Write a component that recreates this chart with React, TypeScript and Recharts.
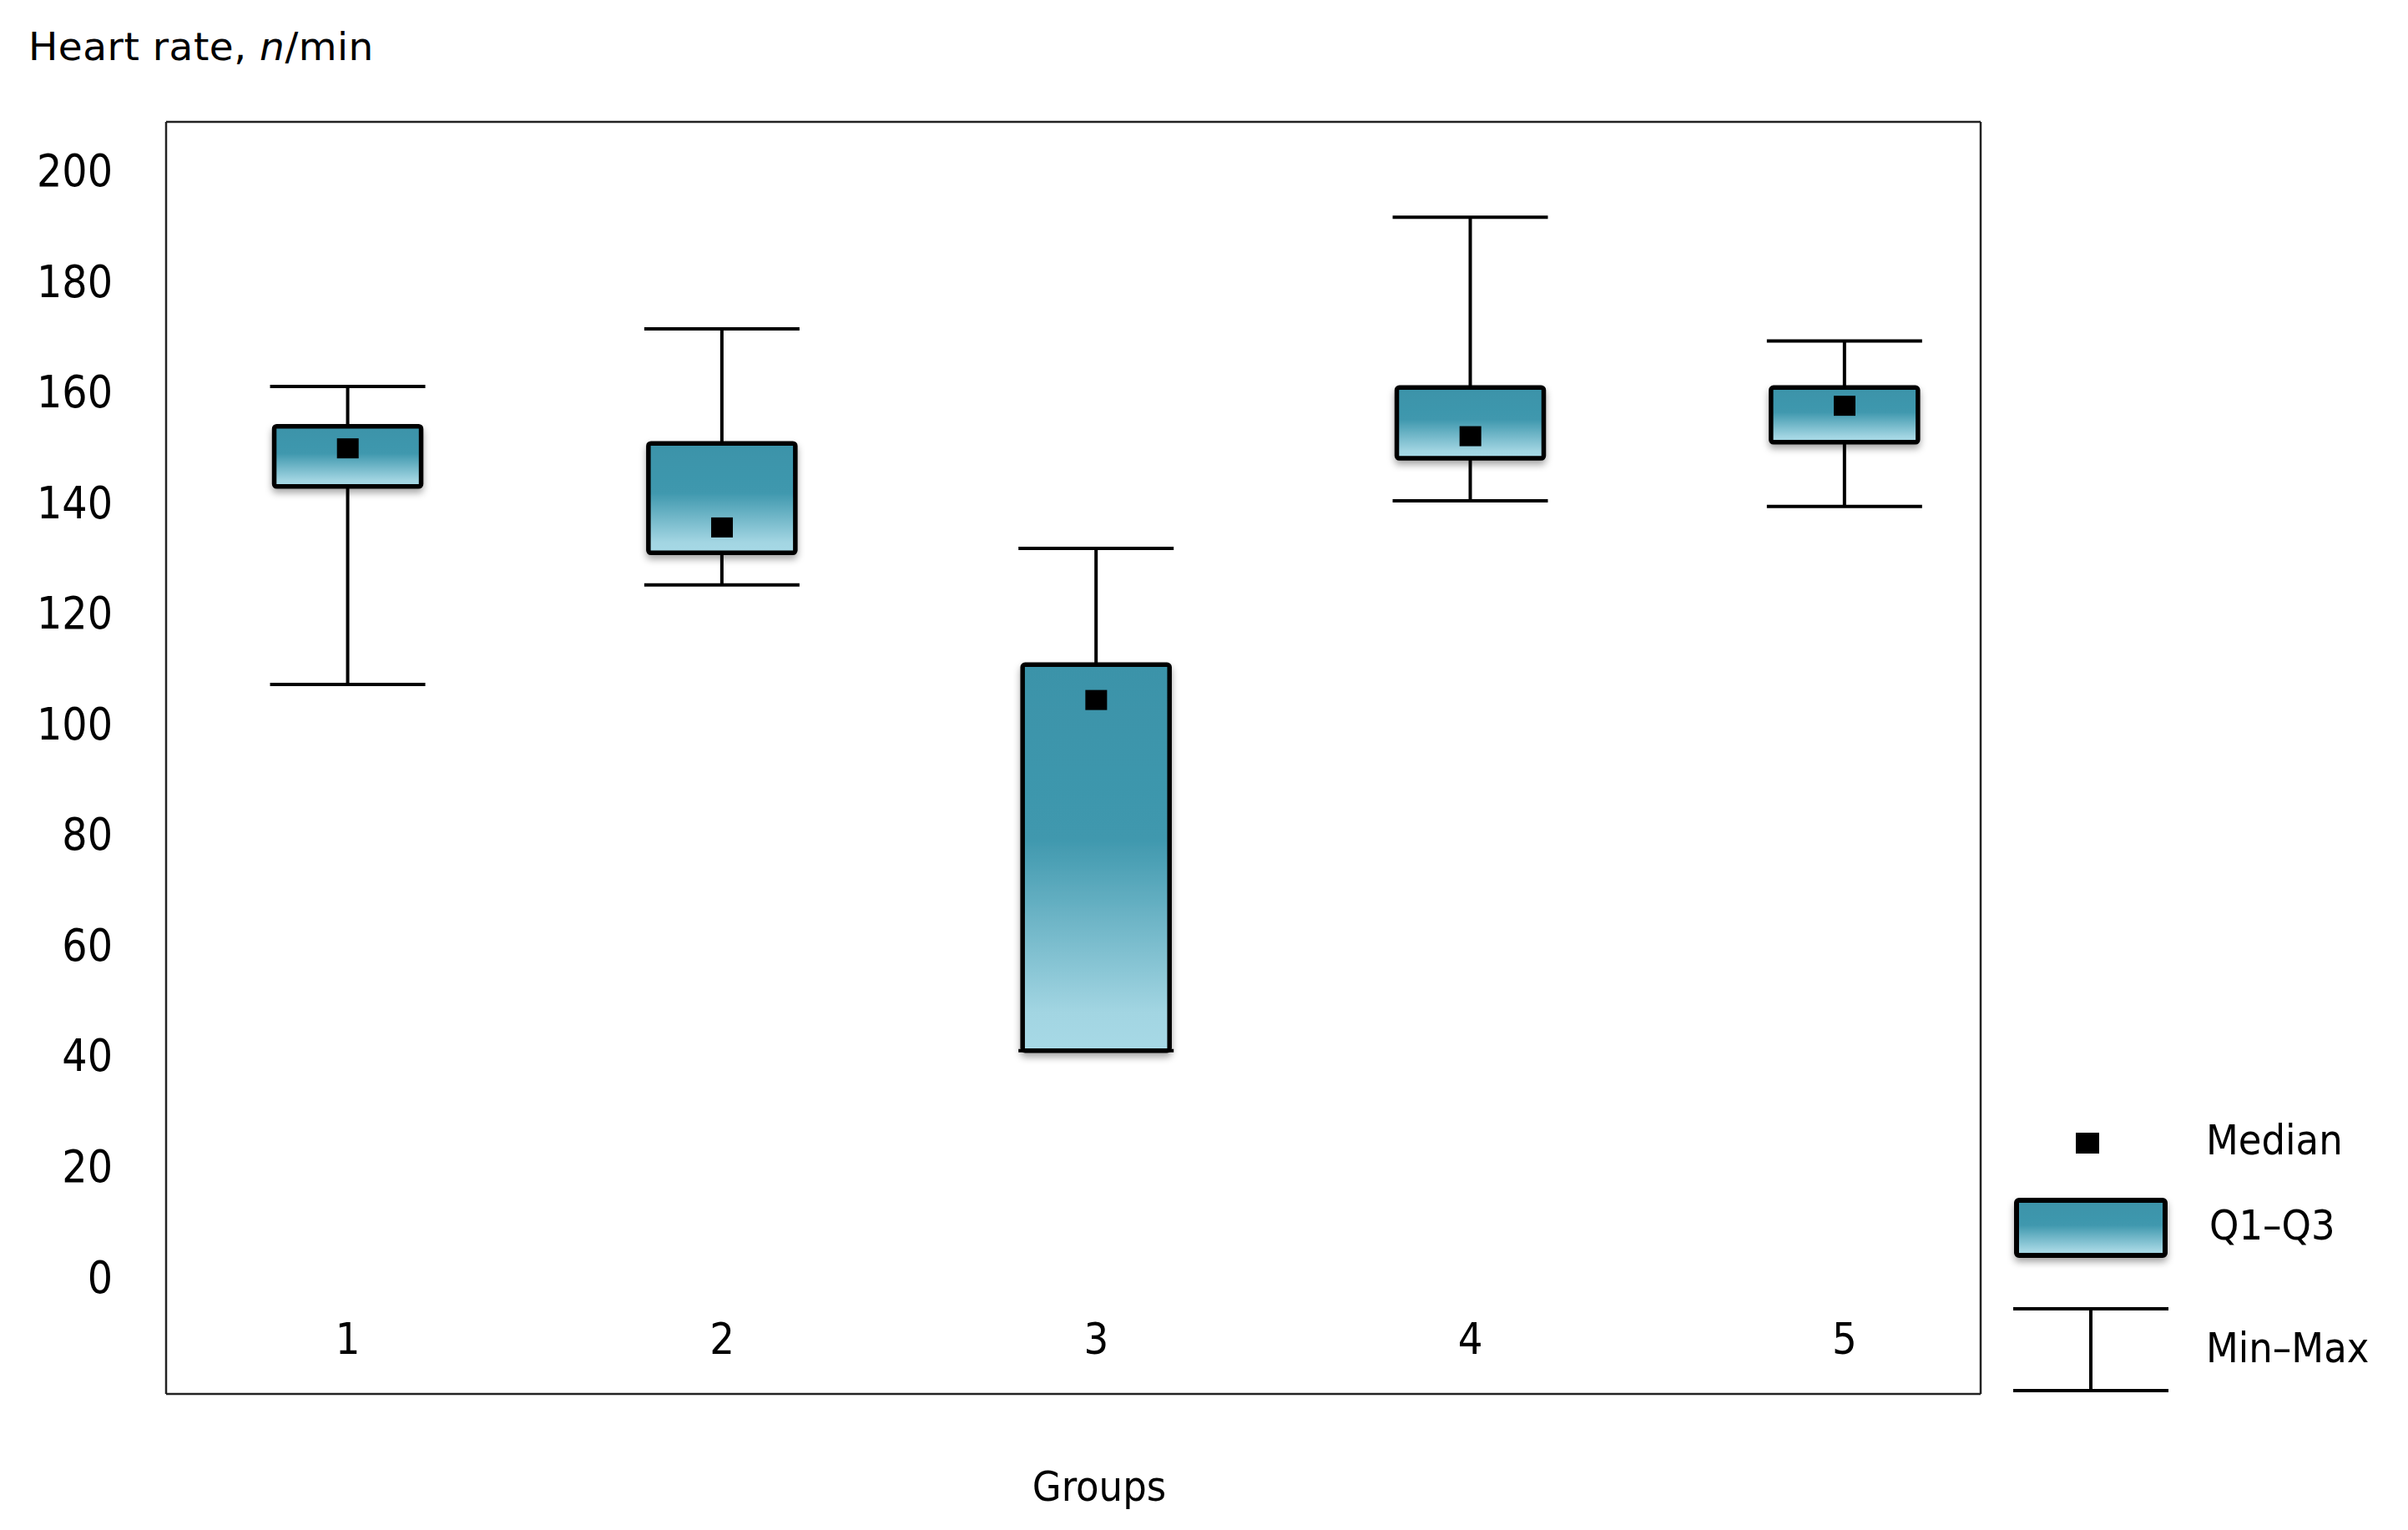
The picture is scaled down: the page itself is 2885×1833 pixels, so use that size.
import React from 'react';
import { ComposedChart, Bar, Scatter, XAxis, YAxis, Legend } from 'recharts';

const groups = [1, 2, 3, 4, 5];
const mins = [107.1, 125.1, 40.9, 140.3, 139.3];
const q1s = [142.9, 130.9, 40.9, 148.0, 150.9];
const medians = [149.8, 135.5, 104.3, 152.0, 157.5];
const q3s = [153.8, 150.7, 110.7, 160.8, 160.8];
const maxs = [161.0, 171.4, 131.7, 191.6, 169.2];
const yTicks = [0, 20, 40, 60, 80, 100, 120, 140, 160, 180, 200];

const data = groups.map((g, i) => ({
  g,
  whisker: [mins[i], maxs[i]],
  box: [q1s[i], q3s[i]],
  median: medians[i],
}));

const FONT = "'DejaVu Sans Condensed', 'DejaVu Sans', sans-serif";
const FONT_W = "'DejaVu Sans', sans-serif";
const TEAL = '#3c95ab';
const LIGHT = '#a7d9e6';

const Defs = ({ id }: { id: string }) => (
  <defs>
    <linearGradient id={`grad-${id}`} x1="0" y1="0" x2="0" y2="1">
      <stop offset="0" stopColor="#3b93a9" />
      <stop offset="0.45" stopColor="#3f98ae" />
      <stop offset="0.9" stopColor="#a2d5e2" />
      <stop offset="1" stopColor={LIGHT} />
    </linearGradient>
    <filter id={`sh-${id}`} x="-20%" y="-20%" width="140%" height="160%">
      <feDropShadow dx="0" dy="5" stdDeviation="4" floodColor="#000" floodOpacity="0.35" />
    </filter>
  </defs>
);

const BoxShape = (props: any) => {
  const { x, y, width, height, index } = props;
  const top = Math.min(y, y + height);
  const h = Math.abs(height);
  const id = `b${index}`;
  return (
    <g>
      <Defs id={id} />
      <rect x={x} y={top} width={width} height={h} rx={3} ry={3} fill={`url(#grad-${id})`} stroke="#000" strokeWidth={5.5} filter={`url(#sh-${id})`} />
    </g>
  );
};

const WhiskerShape = (props: any) => {
  const { x, y, width, height } = props;
  const top = Math.min(y, y + height);
  const bottom = Math.max(y, y + height);
  const cx = x + width / 2;
  return (
    <g stroke="#000" strokeWidth={4}>
      <line x1={cx} y1={top} x2={cx} y2={bottom} />
      <line x1={x} y1={top} x2={x + width} y2={top} />
      <line x1={x} y1={bottom} x2={x + width} y2={bottom} />
    </g>
  );
};

const MedianShape = (props: any) => {
  const { cx, cy } = props;
  return <rect x={cx - 13} y={cy - 12} width={26} height={24} fill="#000" />;
};

const XTick = (props: any) => {
  const { x, y, payload } = props;
  return (
    <text x={x} y={y - 66} dy="0.355em" textAnchor="middle" fontSize={52} fontFamily={FONT} fill="#000">
      {payload.value}
    </text>
  );
};

const LegendContent = () => (
  <svg width={505} height={420} style={{ display: 'block' }}>
    <Defs id="leg" />
    <rect x={107} y={57} width={28} height={25} fill="#000" />
    <text x={263} y={83} fontSize={50} fontFamily={FONT} fill="#000">Median</text>
    <rect x={36} y={138} width={178} height={66} rx={3} ry={3} fill="url(#grad-leg)" stroke="#000" strokeWidth={6} filter="url(#sh-leg)" />
    <text x={267} y={185} fontSize={50} fontFamily={FONT} fill="#000">Q1–Q3</text>
    <g stroke="#000" strokeWidth={4}>
      <line x1={32} y1={268} x2={218} y2={268} />
      <line x1={32} y1={366} x2={218} y2={366} />
      <line x1={125} y1={268} x2={125} y2={366} />
    </g>
    <text x={263} y={332} fontSize={50} fontFamily={FONT} fill="#000">Min–Max</text>
  </svg>
);

const GroupsLabel = (props: any) => {
  const { viewBox } = props;
  return (
    <text x={viewBox.x + viewBox.width / 2 + 31} y={viewBox.y + 128} textAnchor="middle" fontSize={50} fontFamily={FONT} fill="#000">
      Groups
    </text>
  );
};

const X_DOMAIN: [number, number] = [0.5144, 5.3636];
const Y_DOMAIN: [number, number] = [-21.17, 208.83];
const FRAME = { stroke: '#222', strokeWidth: 2.5 };

export default function App() {
  return (
    <div style={{ position: 'absolute', left: 0, top: 0, width: 2885, height: 1833, background: '#fff' }}>
      <div
        style={{
          position: 'absolute',
          left: 34,
          top: 32,
          fontSize: 47,
          lineHeight: '47px',
          fontFamily: FONT_W,
          letterSpacing: 0.5,
          color: '#000',
          whiteSpace: 'nowrap',
          zIndex: 2,
        }}
      >
        Heart rate, <i>n</i>/min
      </div>
      <ComposedChart
        width={2885}
        height={1833}
        data={data}
        margin={{ top: 144, right: 510, bottom: 0, left: 0 }}
      >
        <XAxis
          xAxisId="main"
          dataKey="g"
          type="number"
          orientation="bottom"
          domain={X_DOMAIN}
          ticks={groups}
          height={163}
          tickLine={false}
          tickSize={0}
          tickMargin={0}
          axisLine={FRAME}
          tick={<XTick />}
          label={<GroupsLabel />}
          interval={0}
        />
        <XAxis
          xAxisId="top"
          dataKey="g"
          type="number"
          orientation="top"
          domain={X_DOMAIN}
          ticks={groups}
          height={2}
          tick={false}
          tickLine={false}
          axisLine={FRAME}
        />
        <YAxis
          yAxisId="left"
          type="number"
          domain={Y_DOMAIN}
          ticks={yTicks}
          width={199}
          tickLine={false}
          tickSize={0}
          tickMargin={64}
          axisLine={FRAME}
          interval={0}
          tick={{ fontSize: 53, fill: '#000', fontFamily: FONT }}
        />
        <YAxis
          yAxisId="right"
          orientation="right"
          type="number"
          domain={Y_DOMAIN}
          ticks={yTicks}
          width={2}
          tick={false}
          tickLine={false}
          axisLine={FRAME}
        />
        <Bar
          xAxisId="top"
          yAxisId="left"
          dataKey="whisker"
          barSize={186}
          shape={<WhiskerShape />}
          isAnimationActive={false}
        />
        <Bar
          xAxisId="main"
          yAxisId="left"
          dataKey="box"
          barSize={176}
          fill={TEAL}
          shape={<BoxShape />}
          isAnimationActive={false}
        />
        <Scatter
          xAxisId="main"
          yAxisId="left"
          dataKey="median"
          shape={<MedianShape />}
          isAnimationActive={false}
        />
        <Legend
          layout="horizontal"
          verticalAlign="middle"
          align="center"
          content={<LegendContent />}
          wrapperStyle={{ left: 2380, top: 1300, width: 505, height: 420 }}
        />
      </ComposedChart>
    </div>
  );
}
